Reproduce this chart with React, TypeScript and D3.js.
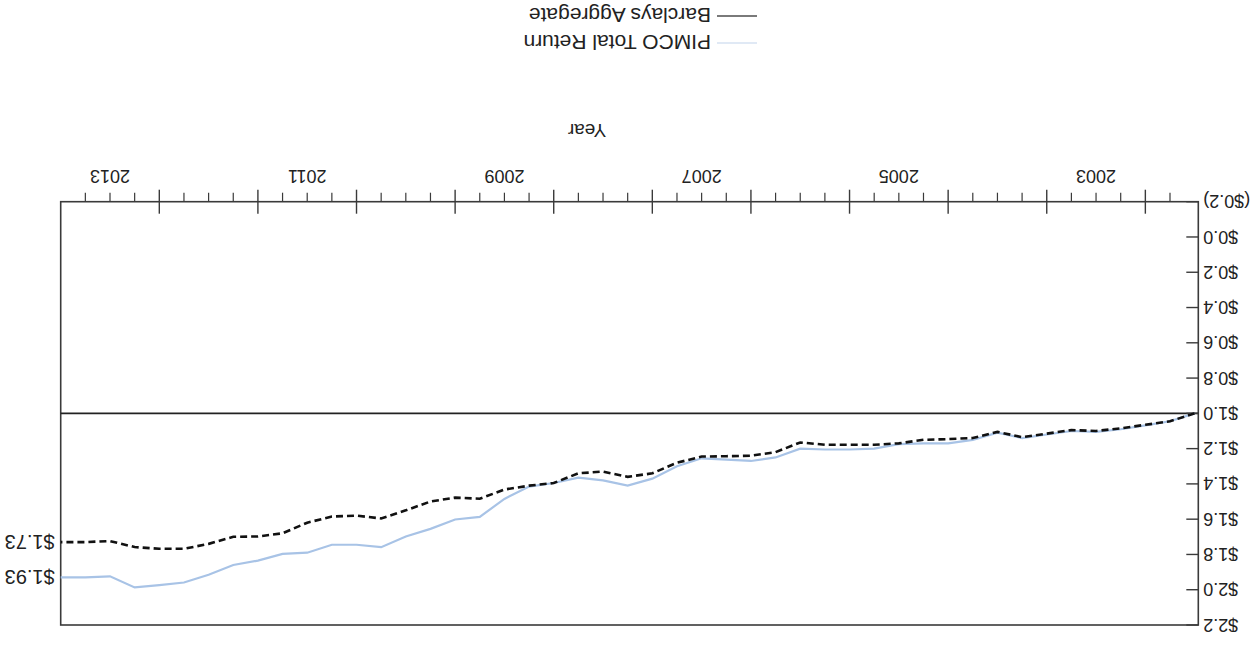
import React from 'react';
import * as d3 from 'd3';

// Quarter-end dates (decimal years), growth of $1 invested mid-2002
const quarters = [
  2002.5, 2002.75,
  2003.0, 2003.25, 2003.5, 2003.75,
  2004.0, 2004.25, 2004.5, 2004.75,
  2005.0, 2005.25, 2005.5, 2005.75,
  2006.0, 2006.25, 2006.5, 2006.75,
  2007.0, 2007.25, 2007.5, 2007.75,
  2008.0, 2008.25, 2008.5, 2008.75,
  2009.0, 2009.25, 2009.5, 2009.75,
  2010.0, 2010.25, 2010.5, 2010.75,
  2011.0, 2011.25, 2011.5, 2011.75,
  2012.0, 2012.25, 2012.5, 2012.75,
  2013.0, 2013.25, 2013.5, 2013.75,
  2014.0,
];

const pimcoTotalReturn = [
  1.0, 1.045,
  1.068, 1.09, 1.105, 1.1,
  1.12, 1.14, 1.11, 1.15,
  1.17, 1.17, 1.175, 1.2,
  1.205, 1.205, 1.2, 1.25,
  1.27, 1.262, 1.255, 1.3,
  1.37, 1.41, 1.38, 1.365,
  1.395, 1.415, 1.485, 1.587,
  1.602, 1.655, 1.698, 1.759,
  1.745, 1.745, 1.79, 1.797,
  1.835, 1.86, 1.915, 1.959,
  1.974, 1.987, 1.924, 1.93,
  1.93,
];

const barclaysAggregate = [
  1.0, 1.045,
  1.065, 1.085, 1.1, 1.095,
  1.115, 1.135, 1.105, 1.14,
  1.146, 1.15, 1.17, 1.178,
  1.178, 1.178, 1.165, 1.22,
  1.24, 1.243, 1.245, 1.28,
  1.34, 1.36, 1.33, 1.34,
  1.395, 1.41, 1.432, 1.484,
  1.478, 1.5, 1.55, 1.596,
  1.58, 1.585, 1.62, 1.68,
  1.698, 1.7, 1.74, 1.768,
  1.768, 1.758, 1.724, 1.73,
  1.73,
];

const yTickValues = [-0.2, 0, 0.2, 0.4, 0.6, 0.8, 1.0, 1.2, 1.4, 1.6, 1.8, 2.0, 2.2];
const yearBoundaries = [2003, 2004, 2005, 2006, 2007, 2008, 2009, 2010, 2011, 2012, 2013];
const labeledYears = [2003, 2005, 2007, 2009, 2011, 2013];

const seriesNames = ['PIMCO Total Return', 'Barclays Aggregate'];
const endLabels = ['$1.93', '$1.73'];

const W = 1257;
const H = 656;
const FONT = '"Liberation Sans", Arial, Helvetica, sans-serif';

export default function App() {
  const left = 58.7;
  const right = 1196.3;
  const top = 31;
  const bottom = 454.3;

  const x = d3.scaleLinear().domain([2002.463, 2014]).range([left, right]);
  const y = d3.scaleLinear().domain([-0.2, 2.2]).range([bottom, top]);

  const line = d3
    .line<number>()
    .x((_, i) => x(quarters[i]))
    .y((d) => y(d));

  const minorTicks = d3
    .range(2002.75, 2014, 0.25)
    .filter((t) => Math.abs(t - Math.round(t)) > 0.01);

  const fmt = (v: number) =>
    v < 0 ? `($${Math.abs(v).toFixed(1)})` : `$${v.toFixed(1)}`;

  const ink = '#222';
  const blue = '#a8c3e6';

  return (
    <svg
      width={W}
      height={H}
      viewBox={`0 0 ${W} ${H}`}
      style={{ position: 'fixed', left: 0, top: 0, background: '#fff' }}
    >
      <rect x={0} y={0} width={W} height={H} fill="#fff" />
      <g transform={`rotate(180, ${W / 2}, ${H / 2})`} fontFamily={FONT} fill={ink}>
        {/* plot frame */}
        <rect
          x={left}
          y={top}
          width={right - left}
          height={bottom - top}
          fill="none"
          stroke="#3a3a3a"
          strokeWidth={1.6}
        />

        {/* $1.00 reference line */}
        <line x1={left} x2={right} y1={y(1)} y2={y(1)} stroke="#222" strokeWidth={1.6} />

        {/* y axis ticks and labels */}
        {yTickValues.map((v) => (
          <g key={`y${v}`}>
            <line x1={left} x2={left + 12} y1={y(v)} y2={y(v)} stroke="#3a3a3a" strokeWidth={1.4} />
            <text
              x={left - 5}
              y={y(v)}
              dy="0.36em"
              textAnchor="end"
              fontSize={18}
            >
              {fmt(v)}
            </text>
          </g>
        ))}

        {/* x axis: yearly ticks crossing the axis, quarterly ticks outward */}
        {yearBoundaries.map((t) => (
          <line
            key={`M${t}`}
            x1={x(t)}
            x2={x(t)}
            y1={bottom - 12}
            y2={bottom + 12}
            stroke="#3a3a3a"
            strokeWidth={1.4}
          />
        ))}
        {minorTicks.map((t) => (
          <line
            key={`m${t}`}
            x1={x(t)}
            x2={x(t)}
            y1={bottom}
            y2={bottom + 9}
            stroke="#3a3a3a"
            strokeWidth={1.2}
          />
        ))}
        {labeledYears.map((yr) => (
          <text key={`l${yr}`} x={x(yr + 0.5)} y={486} textAnchor="middle" fontSize={18}>
            {yr}
          </text>
        ))}
        <text x={670} y={532} textAnchor="middle" fontSize={19}>
          Year
        </text>

        {/* series */}
        <path d={line(pimcoTotalReturn) || ''} fill="none" stroke={blue} strokeWidth={2.2} />
        <path
          d={line(barclaysAggregate) || ''}
          fill="none"
          stroke="#111"
          strokeWidth={2.6}
          strokeDasharray="7,4"
        />

        {/* ending values */}
        <text
          x={right + 6}
          y={y(pimcoTotalReturn[pimcoTotalReturn.length - 1])}
          dy="0.36em"
          fontSize={20}
        >
          {endLabels[0]}
        </text>
        <text
          x={right + 6}
          y={y(barclaysAggregate[barclaysAggregate.length - 1])}
          dy="0.36em"
          fontSize={20}
        >
          {endLabels[1]}
        </text>

        {/* legend */}
        <line x1={500} x2={540} y1={613} y2={613} stroke="#d6e2f2" strokeWidth={1.6} />
        <text x={546} y={613} dy="0.36em" fontSize={21}>
          {seriesNames[0]}
        </text>
        <line x1={500} x2={540} y1={640} y2={640} stroke="#7a7a7a" strokeWidth={1.8} />
        <text x={546} y={640} dy="0.36em" fontSize={21}>
          {seriesNames[1]}
        </text>
      </g>
    </svg>
  );
}
